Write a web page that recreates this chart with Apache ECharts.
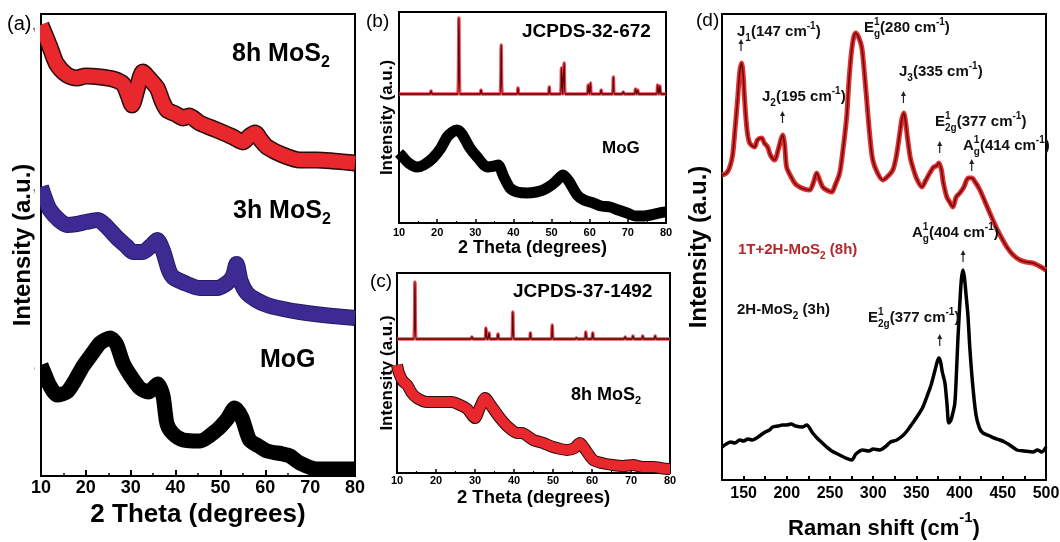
<!DOCTYPE html>
<html><head><meta charset="utf-8">
<script src="https://cdn.jsdelivr.net/npm/echarts@6/dist/echarts.min.js"></script>
<style>html,body{margin:0;padding:0;background:#fff}#c{width:1060px;height:542px}</style>
</head><body><div id="c"></div>
<script>
// ---------- DATA ----------
// Panel (a): XRD, 2-theta vs intensity (a.u., stacked offsets)
const a8hMoS2 = [[10,451],[11,440],[12,429],[13.5,412],[15.8,401],[18,398],[20,400],[23.2,399],[26,397],[28.3,392],[29.5,380],[30.3,371],[31.3,385],[32.7,404],[34,398],[35.9,388],[37,375],[38.1,366],[40,362],[41.7,358],[43,360],[45.4,353],[49.2,346],[52.8,339],[55,334],[56.5,340],[57.7,343],[59,336],[60.4,329],[63.9,321],[67.7,316],[71.5,316],[75,315],[80,313]];
const a3hMoS2 = [[10,289],[11,276],[12,266],[14,256],[15.8,251],[18,252],[20,254],[22.7,256],[24.5,250],[27,238],[29,230],[30.5,224],[32.7,224],[34.5,230],[35.9,236],[37.2,225],[38.5,206],[39.4,199],[42,193],[45.4,188],[49.2,188],[51.5,193],[52.8,200],[53.6,212],[54.5,195],[55.9,183],[58,176],[60.4,171],[64,167],[67.7,164],[75,160],[80,158]];
const aMoG = [[10,111],[11,100],[12,90],[13.6,81],[15.8,84],[17.5,95],[19.4,110],[21.5,123],[23.2,133],[25.4,138],[26.8,132],[28.3,113],[30,100],[32,88],[34,84],[36,92],[37.2,80],[38.1,52],[39.5,42],[41.7,36],[45.4,35],[49.2,46],[51.5,57],[53.2,68],[54.8,58],[56.5,36],[58.5,30],[60.4,25],[63.9,22],[65.5,20],[67.7,13],[71.5,7],[80,7]];

// Panel (b): JCPDS-32-672 reference peaks + MoG
const bRefBase = 129;
const bPeakPos = [18.4, 25.7, 31.5, 36.8, 41.2, 49.4, 52.6, 53.3, 59.6, 60.2, 63, 66.2, 68.8, 72, 72.6, 77.8, 78.4];
const bPeakH   = [3, 76, 4, 49, 6, 7, 26, 31, 9, 11, 4, 17, 2, 5, 4, 9, 8];
const bMoG = [[10,70],[11,66],[12.5,60],[14.7,56],[16.5,58],[18.9,65],[21,75],[22.6,86],[24,91],[25.2,93],[26.5,89],[28.6,75],[30.5,66],[33.1,56],[35,57],[36,58],[37.5,46],[39.1,35],[41,31],[43.6,30],[46,31],[47.8,33],[50,38],[51.5,43],[53,48],[54.5,42],[56.7,28],[58.5,23],[60.9,20],[63,17],[65.3,16],[67.5,13],[69.8,10],[72,7],[74,7],[76,8],[79.7,11],[80,11]];

// Panel (c): JCPDS-37-1492 reference peaks + 8h MoS2
const cRefBase = 134;
const cPeakPos = [14.6, 29.2, 32.8, 33.6, 35.9, 39.7, 44.2, 49.8, 56, 58.4, 60.2, 68.5, 70.5, 73, 76.2];
const cPeakH   = [57, 2, 11, 6, 5, 27, 6, 14, 1, 7, 6, 2, 3, 3, 3];
const c8hMoS2 = [[10,108],[10.5,100],[11.5,92],[12.6,88],[13.8,80],[15.1,75],[17.7,71],[21.8,71],[24,71],[26.2,68],[28,64],[30,55],[31.2,65],[32.6,75],[34,68],[36.4,55],[38.5,46],[40.8,40],[42,40],[44.9,33],[47.5,30],[50,26],[52,24],[53.6,23],[55.5,25],[56.9,30],[58,25],[60.3,13],[62.5,10],[65.4,8],[68,7],[70.5,8],[73,6],[75.6,6],[79.5,4],[80,4]];

// Panel (d): Raman spectra
const dRed = [[125,305],[130.3,307],[134,313],[137.3,325],[140,350],[143,380],[145.5,408],[147.7,417],[149.5,405],[151.2,380],[154,350],[157,337],[162.7,333],[166,340],[170.9,342],[174,337],[177.8,333],[181,325],[185.9,320],[190,330],[193,340],[195.2,345],[197.5,335],[199.8,313],[205,303],[210,296],[214.9,293],[220,291],[226.5,290],[231,298],[234.6,307],[238,300],[241.5,293],[246,290],[252,288],[256,295],[261.2,307],[265,330],[269.3,363],[272,400],[275.1,430],[277.5,443],[279.8,447],[283,443],[286.7,433],[289.5,410],[292.5,380],[296,345],[299.5,320],[305,307],[311,300],[316,303],[322.7,310],[327,325],[330.8,347],[333,360],[335.4,367],[337.5,358],[340,340],[343,322],[345.8,313],[350,302],[356.3,293],[361,300],[365.5,307],[370,313],[373,314],[376,317],[379,310],[381,298],[385.2,283],[388.5,278],[392.2,273],[396,283],[400.3,287],[405,293],[410,302],[414.2,302],[418,298],[423.5,290],[430,277],[438.5,260],[445,248],[454.7,233],[462,225],[469.8,220],[477,218],[484.9,217],[492,214],[500,210]];
const dBlack = [[125,33],[130,36],[135,38],[140,37],[145.4,40],[150,39],[155,41],[160,40],[165,42],[170,45],[175,48],[180,50],[183.6,53],[190,54],[195,55],[199.8,55],[205,56],[210,54],[218.4,53],[223,55],[230,47],[235,42],[240,38],[246.2,33],[252,29],[261.2,25],[268,22],[275.1,20],[280,26],[287.9,30],[295,29],[300,31],[307.6,30],[315,34],[320,38],[327.3,40],[335,45],[340,50],[345.8,57],[352,65],[357,72],[362,83],[367,95],[371,108],[374,118],[376,122],[378,118],[380,108],[383,97],[385.5,75],[387.5,57],[390,60],[392.5,68],[394.5,77],[396,100],[398,140],[400.3,177],[402,200],[403.8,210],[405.5,203],[407.5,185],[409.6,165],[412,130],[415.4,93],[419,65],[423,52],[427,47],[435,44],[440,42],[446.6,40],[452,38],[458,35],[466.3,30],[475,29],[484.9,28],[490,30],[495,28],[500,33]];
// Raman peak markers (wavenumber, intensity level of arrow)
const dRedMarks = [[147,435],[195,363],[335,383],[377,333],[414,315]];
const dBlackMarks = [[404,224],[377,140]];

// ---------- BUILD ----------
function sticks(pos, h, base){
  const pts = [[10, base]];
  pos.forEach((p,i)=>{ pts.push([p-0.3, base],[p, base+h[i]],[p+0.3, base]); });
  pts.push([80, base]);
  return pts;
}
const FONT = "'Liberation Sans', Arial, sans-serif";
const blk = '#000';

function xrdX(grid, opts){
  return Object.assign({
    gridIndex: grid, type:'value', min:10, max:80, interval:10,
    axisLine:{lineStyle:{color:blk,width:2}},
    axisTick:{inside:true,length:6,lineStyle:{color:blk,width:2}},
    minorTick:{show:true,splitNumber:2,length:3,lineStyle:{color:blk,width:1.5}},
    splitLine:{show:false},
    axisLabel:{color:blk,fontWeight:'bold',fontFamily:FONT,fontSize:18,margin:3},
    name:'2 Theta (degrees)', nameLocation:'middle', nameGap:23,
    nameTextStyle:{color:blk,fontWeight:'bold',fontFamily:FONT,fontSize:26}
  }, opts||{});
}
function yHidden(grid, max, nameSize, gap){
  return {gridIndex:grid,type:'value',min:0,max:max,
    axisLine:{show:true,lineStyle:{color:blk,width:2}},axisTick:{show:false},axisLabel:{show:false},splitLine:{show:false},
    name:'Intensity (a.u.)',nameLocation:'middle',nameRotate:90,nameGap:gap,
    nameTextStyle:{color:blk,fontWeight:'bold',fontFamily:FONT,fontSize:nameSize}};
}
function band(data, x, y, color, w, smooth){
  return {type:'line',xAxisIndex:x,yAxisIndex:y,data:data,showSymbol:false,smooth:smooth||0.25,silent:true,
    lineStyle:{color:color,width:w,cap:'butt',join:'round'}};
}
const gridBase = {show:true,borderColor:blk,borderWidth:2,backgroundColor:'transparent',outerBoundsMode:'none'};

const RED='#e8282c', BLUE='#3d2b93', DRED='#5e0606';
const ARROW = 'path://M5,0 L10,9 L6.2,9 L6.2,22 L3.8,22 L3.8,9 L0,9 Z';

const series = [
  // (a)
  band(a8hMoS2,0,0,'#2a0a0a',17), band(a8hMoS2,0,0,RED,14),
  band(a3hMoS2,0,0,'#251a66',16), band(a3hMoS2,0,0,BLUE,14),
  band(aMoG,0,0,blk,15),
  // (b)
  band(sticks(bPeakPos,bPeakH,bRefBase),1,1,'#ee4a55',3.5,false),
  band(sticks(bPeakPos,bPeakH,bRefBase),1,1,DRED,1.3,false),
  band(bMoG,1,1,blk,11),
  // (c)
  band(sticks(cPeakPos,cPeakH,cRefBase),2,2,'#ee4a55',3.5,false),
  band(sticks(cPeakPos,cPeakH,cRefBase),2,2,DRED,1.3,false),
  band(c8hMoS2,2,2,'#2a0a0a',12), band(c8hMoS2,2,2,RED,10),
  // (d)
  Object.assign(band(dRed,3,3,'#e33030',5,0.3),{markPoint:{symbol:ARROW,symbolSize:[5,12],silent:true,
    itemStyle:{color:'#222'},label:{show:false},data:dRedMarks.map(c=>({coord:c}))}}),
  band(dRed,3,3,'#6a0a0a',1.6,0.3),
  Object.assign(band(dBlack,3,3,blk,3.5,0.3),{markPoint:{symbol:ARROW,symbolSize:[5,12],silent:true,
    itemStyle:{color:'#222'},label:{show:false},data:dBlackMarks.map(c=>({coord:c}))}})
];

// text helpers
const R = {
  b:{fontFamily:FONT,fontWeight:'bold',fontSize:15,lineHeight:22,verticalAlign:'middle'},
  sp:{fontFamily:FONT,fontWeight:'bold',fontSize:10,lineHeight:12,verticalAlign:'top'},
  sp0:{fontFamily:FONT,fontWeight:'bold',fontSize:10,lineHeight:12,verticalAlign:'top',width:0},
  sb:{fontFamily:FONT,fontWeight:'bold',fontSize:10,lineHeight:12,verticalAlign:'bottom'}
};
function richLabel(x,y,text,color){
  const rich = {};
  Object.keys(R).forEach(k=>{rich[k]=Object.assign({fill:color||'#111'},R[k]);});
  return {type:'text',x:x,y:y,silent:true,z:21,style:{text:text,rich:rich,fill:color||'#111',verticalAlign:'middle',align:'left'}};
}
function plainText(x,y,text,size,bold,color){
  return {type:'text',x:x,y:y,silent:true,z:21,style:{text:text,fontFamily:FONT,fontSize:size,fontWeight:bold?'bold':'normal',fill:color||blk,verticalAlign:'middle',align:'left'}};
}
function mos2(x,y,prefix,size){
  return {type:'text',x:x,y:y,silent:true,z:21,style:{text:'{m|'+prefix+'MoS}{s|2}',verticalAlign:'middle',align:'left',rich:{
    m:{fontFamily:FONT,fontWeight:'bold',fontSize:size,lineHeight:size*1.3,verticalAlign:'middle',fill:blk},
    s:{fontFamily:FONT,fontWeight:'bold',fontSize:Math.round(size*0.62),lineHeight:size*1.3,verticalAlign:'bottom',fill:blk}}}};
}
const cm = '{b|(#### cm}{sp|-1}{b|)}';
function wn(v){return cm.replace('####',v);}

const graphic = [
  // mask the part of the thick XRD bands of panel (a) that spills left of its frame
  {type:'rect',silent:true,z:20,shape:{x:34.5,y:14,width:5.5,height:462},style:{fill:'#fff'}},
  plainText(7,24,'(a)',20,false),
  mos2(232,54,'8h ',25), mos2(233,211,'3h ',25),
  plainText(260,360,'MoG',25,true),
  plainText(366,22,'(b)',19,false),
  plainText(522,32,'JCPDS-32-672',19,true),
  plainText(602,148,'MoG',17,true),
  plainText(370,282,'(c)',19,false),
  plainText(513,292,'JCPDS-37-1492',19,true),
  mos2(571,395,'8h ',18),
  plainText(696,21,'(d)',19,false),
  richLabel(737,32,'{b|J}{sb|1}'+wn(147)),
  richLabel(762,97,'{b|J}{sb|2}'+wn(195)),
  richLabel(864,28,'{b|E}{sp0|1}{sb|g}'+wn(280)),
  richLabel(899,72,'{b|J}{sb|3}'+wn(335)),
  richLabel(935,122,'{b|E}{sp0|1}{sb|2g}'+wn(377)),
  richLabel(963,146,'{b|A}{sp0|1}{sb|g}'+wn(414)),
  richLabel(738,250,'{b|1T+2H-MoS}{sb|2}{b| (8h)}','#b2282c'),
  richLabel(912,233,'{b|A}{sp0|1}{sb|g}'+wn(404)),
  richLabel(737,310,'{b|2H-MoS}{sb|2}{b| (3h)}'),
  richLabel(868,318,'{b|E}{sp0|1}{sb|2g}'+wn(377))
];

const option = {
  animation:false,
  backgroundColor:'#fff',
  textStyle:{fontFamily:FONT},
  grid:[
    Object.assign({left:41,top:14,width:314,height:462},gridBase),
    Object.assign({left:399,top:12,width:267,height:211},gridBase),
    Object.assign({left:397,top:273,width:273,height:200},gridBase),
    Object.assign({left:722,top:14,width:324,height:466},gridBase)
  ],
  xAxis:[
    xrdX(0),
    xrdX(1,{axisTick:{inside:true,length:4,lineStyle:{color:blk,width:1.5}},minorTick:{show:true,splitNumber:2,length:2,lineStyle:{color:blk,width:1}},
      axisLabel:{color:blk,fontWeight:'bold',fontFamily:FONT,fontSize:11,margin:4},nameGap:16,
      nameTextStyle:{color:blk,fontWeight:'bold',fontFamily:FONT,fontSize:18}}),
    xrdX(2,{axisTick:{inside:true,length:4,lineStyle:{color:blk,width:1.5}},minorTick:{show:true,splitNumber:2,length:2,lineStyle:{color:blk,width:1}},
      axisLabel:{color:blk,fontWeight:'bold',fontFamily:FONT,fontSize:11,margin:2},nameGap:15,
      nameTextStyle:{color:blk,fontWeight:'bold',fontFamily:FONT,fontSize:18.5}}),
    {gridIndex:3,type:'value',min:125,max:500,interval:25,
      axisLine:{lineStyle:{color:blk,width:2}},
      axisTick:{inside:true,length:4,lineStyle:{color:blk,width:2}},
      splitLine:{show:false},
      axisLabel:{color:blk,fontWeight:'bold',fontFamily:FONT,fontSize:16,margin:6,formatter:v=>(v%50===0?String(v):'')},
      name:'{t|Raman shift (cm}{s|-1}{t|)}',nameLocation:'middle',nameGap:30,
      nameTextStyle:{rich:{t:{color:blk,fontWeight:'bold',fontFamily:FONT,fontSize:22,lineHeight:30,verticalAlign:'bottom'},
                           s:{color:blk,fontWeight:'bold',fontFamily:FONT,fontSize:15,lineHeight:30,verticalAlign:'top'}}}}
  ],
  yAxis:[
    yHidden(0,462,24,6),
    yHidden(1,211,17,3),
    yHidden(2,200,17,1),
    yHidden(3,466,24,11)
  ],
  series:series,
  graphic:graphic
};
const chart = echarts.init(document.getElementById('c'),null,{renderer:'canvas'});
chart.setOption(option);
</script></body></html>
